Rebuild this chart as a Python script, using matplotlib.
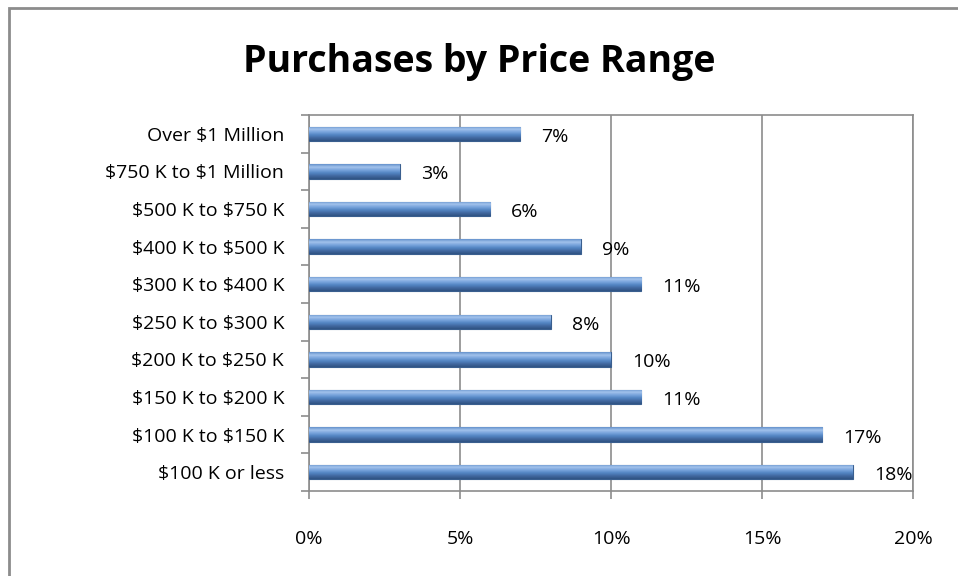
import numpy as np
import matplotlib.pyplot as plt
from matplotlib.colors import LinearSegmentedColormap
from matplotlib.ticker import FuncFormatter

plt.rcParams['font.family'] = ['Open Sans', 'DejaVu Sans']

categories = ["\\$100 K or less", "\\$100 K to \\$150 K", "\\$150 K to \\$200 K",
              "\\$200 K to \\$250 K", "\\$250 K to \\$300 K", "\\$300 K to \\$400 K",
              "\\$400 K to \\$500 K", "\\$500 K to \\$750 K", "\\$750 K to \\$1 Million",
              "Over \\$1 Million"]
shares = [18, 17, 11, 10, 8, 11, 9, 6, 3, 7]
xticks = [0, 5, 10, 15, 20]

fig = plt.figure(figsize=(9.58, 5.76), dpi=100)
ax = fig.add_axes([309 / 958, 1 - 491 / 576, 604 / 958, 376 / 576])

# outer chart border
fig.patches.append(plt.Rectangle((8.5 / 958, -0.1), 1.2, (576 - 7.5) / 576 + 0.1,
                                 transform=fig.transFigure, fill=False,
                                 edgecolor='#8c8c8c', linewidth=2))

y = np.arange(len(categories))
h = 0.38
bars = ax.barh(y, shares, height=h, color='#4F81BD', edgecolor='#3A5F8F',
               linewidth=0.8, zorder=3)

# shaded look: light top, dark bottom
cmap = LinearSegmentedColormap.from_list(
    'bev', ['#2F5283', '#41689F', '#5284C2', '#77A3DB', '#A2C2EC', '#6592CC'])
grad = np.linspace(0, 1, 64).reshape(-1, 1)
for b in bars:
    x0, y0 = b.get_x(), b.get_y()
    w, hh = b.get_width(), b.get_height()
    im = ax.imshow(grad, cmap=cmap, aspect='auto', origin='lower',
                   extent=[x0, x0 + w, y0, y0 + hh], zorder=3.5)
    im.set_clip_path(b)

for yi, v in zip(y, shares):
    ax.text(v + 0.7, yi - 0.08, f"{v}%", va='center', ha='left', fontsize=14,
            color='black', zorder=5)

ax.set_xlim(0, 20)
ax.set_ylim(-0.5, len(categories) - 0.5)
ax.set_xticks(xticks)
ax.xaxis.set_major_formatter(FuncFormatter(lambda v, p: f"{v:.0f}%"))
ax.set_yticks(y)
ax.set_yticklabels(categories)
ax.set_yticks(np.arange(-0.5, len(categories), 1), minor=True)
ax.tick_params(axis='y', which='major', length=0, pad=18, labelsize=14)
ax.tick_params(axis='y', which='minor', length=6, color='#8c8c8c', width=1.2)
ax.tick_params(axis='x', length=6, color='#8c8c8c', width=1.2, pad=22,
               labelsize=14)
ax.grid(axis='x', color='#8c8c8c', linewidth=1.2, zorder=0)
for s in ax.spines.values():
    s.set_color('#8c8c8c')
    s.set_linewidth(1.2)

fig.text(0.5, 1 - 62 / 576, "Purchases by Price Range", ha='center', va='center',
         fontsize=27, fontweight='bold')

fig.savefig("out.png", dpi=100)
